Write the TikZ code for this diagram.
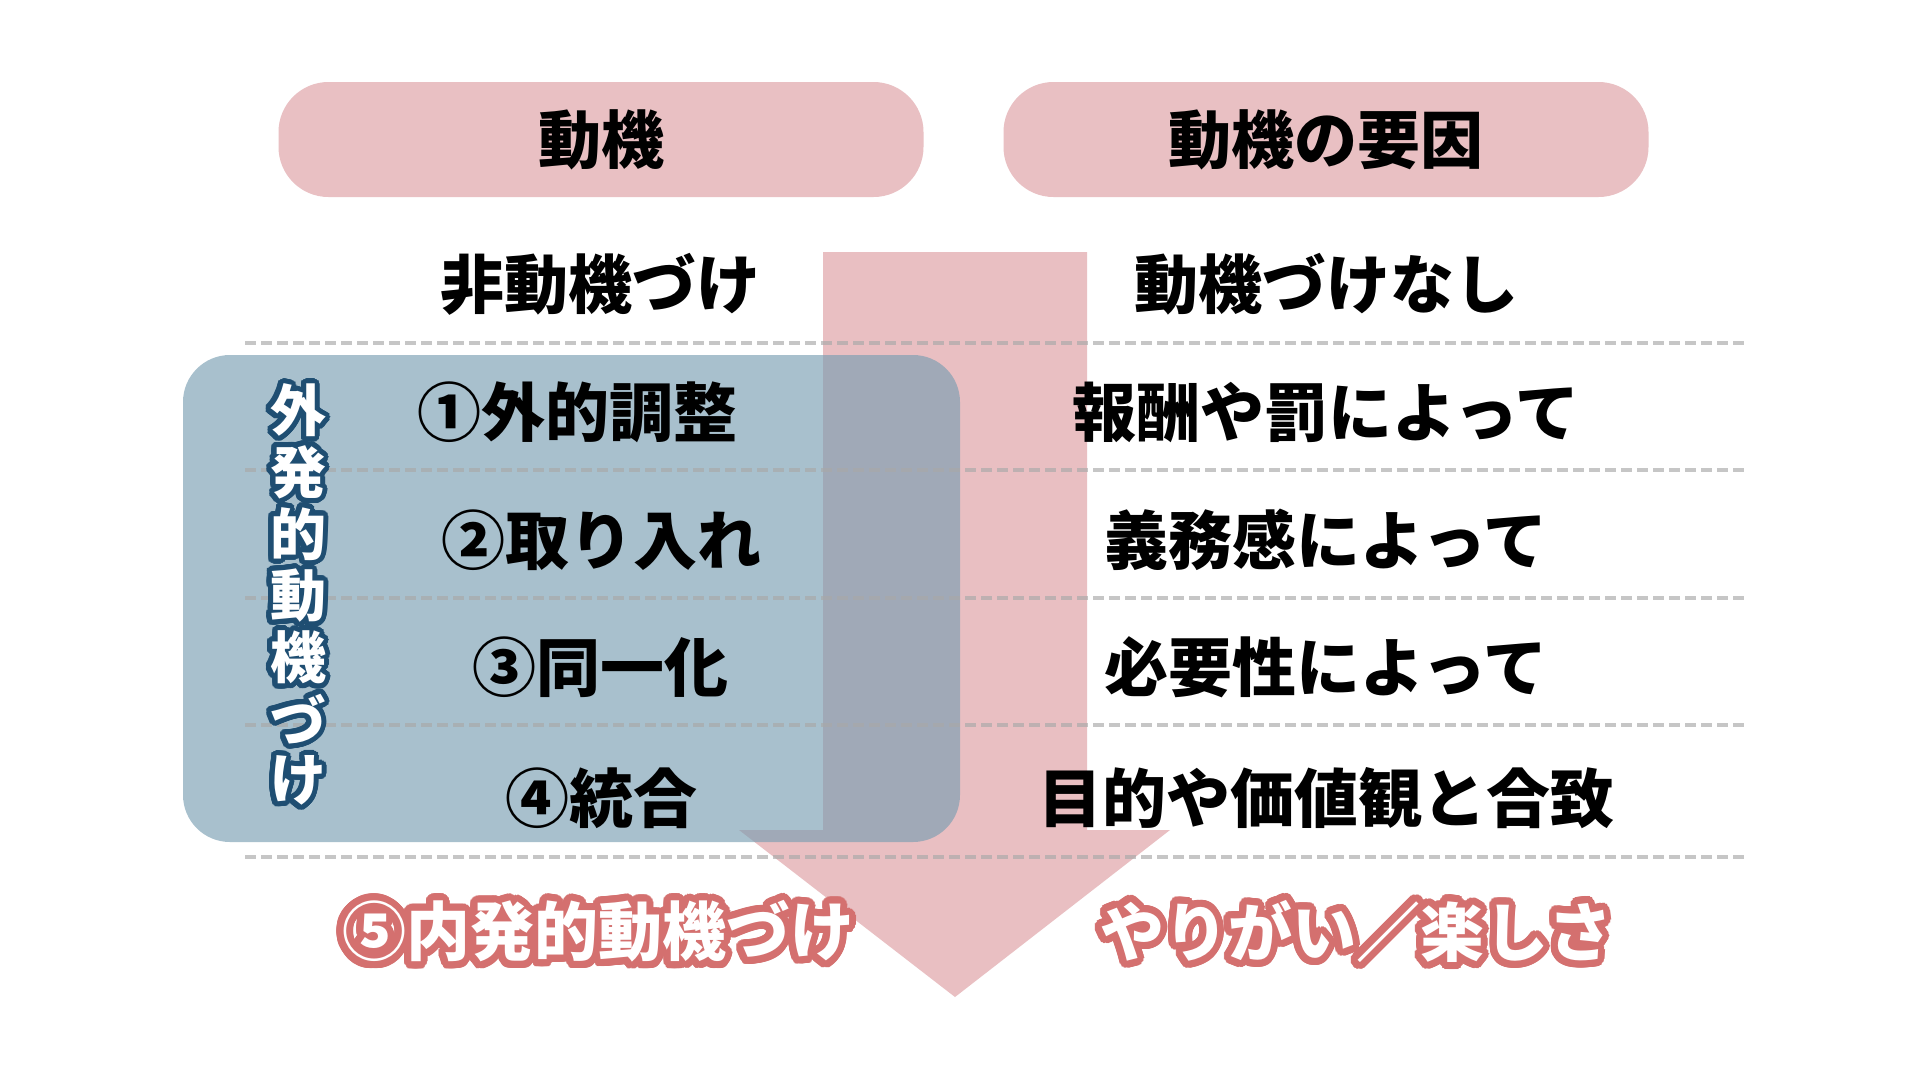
\documentclass[tikz,border=0pt]{standalone}
\usepackage{fontspec}
\setmainfont{Noto Sans CJK JP}
\usepackage[copies]{contour}
\contournumber{40}
\definecolor{headpink}{HTML}{E9C0C3}
\definecolor{arrowpink}{HTML}{E9BFC2}
\definecolor{boxblue}{RGB}{120,158,178}
\definecolor{lineg}{HTML}{A8A8A8}
\definecolor{outblue}{HTML}{1F4E72}
\definecolor{outred}{HTML}{D4706F}

\begin{document}
\begin{tikzpicture}[x=1pt,y=-1pt,
	headbox/.style={fill=headpink,rounded corners=50pt,minimum width=645pt,minimum height=115pt,inner sep=0pt,font=\fontsize{63}{70}\selectfont\bfseries},
	cell/.style={inner sep=0pt,font=\fontsize{64}{70}\selectfont\bfseries},
	vchar/.style={inner sep=0pt,text=white,font=\fontsize{56}{60}\selectfont\bfseries},
	glow/.style={inner sep=0pt,text=white,font=\fontsize{64}{70}\selectfont\bfseries},
	rowline/.style={lineg,opacity=0.65,line width=3.5pt,dash pattern=on 11pt off 5pt}]
\useasboundingbox (0,0) rectangle (1920,1080);
\fill[white] (0,0) rectangle (1920,1080);
%header
\node[headbox] (hd1) at (601,139.5) {動機};
\node[headbox] (hd2) at (1326,139.5) {動機の要因};
%arrow
\fill[arrowpink] (823,252) -- (1087,252) -- (1087,830) -- (1170,830)
	-- (955,997) -- (739,830) -- (823,830) -- cycle;
%extrinsic box
\fill[boxblue,opacity=0.64,rounded corners=47pt] (183,355) rectangle (960,842);
%rows
\foreach \y in {343,470,598,725,857}
	\draw[rowline] (245,\y) -- (1745,\y);
\node[cell] (l0) at (600,284) {非動機づけ};
\node[cell] (l1) at (577,412) {①外的調整};
\node[cell] (l2) at (601,540) {②取り入れ};
\node[cell] (l3) at (600,667) {③同一化};
\node[cell] (l4) at (601,798) {④統合};
\node[cell] (r0) at (1326,284) {動機づけなし};
\node[cell] (r1) at (1326,412) {報酬や罰によって};
\node[cell] (r2) at (1326,540) {義務感によって};
\node[cell] (r3) at (1326,667) {必要性によって};
\node[cell] (r4) at (1326,798) {目的や価値観と合致};
%vertical label
\foreach \c [count=\i from 0] in {外,発,的,動,機,づ,け}
	\node[vchar] (v\i) at (298,413+61.7*\i) {\contourlength{5pt}\contour{outblue}{\c}};
%bottom
\node[glow] (inl) at (598,935) {\contourlength{7pt}\contour{outred}{⑤内発的動機づけ}};
\node[glow] (inr) at (1356,935) {\contourlength{7pt}\contour{outred}{やりがい／楽しさ}};
\end{tikzpicture}
\end{document}
